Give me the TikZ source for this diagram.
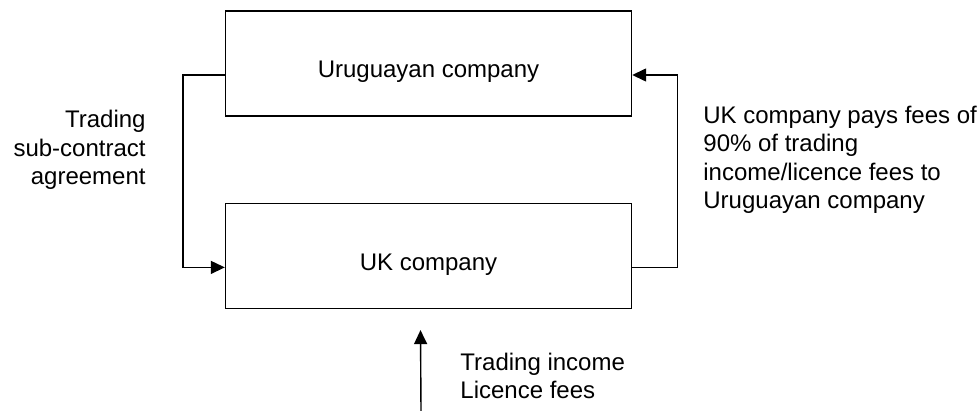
\documentclass[tikz,border=0pt]{standalone}
\usepackage{fontspec}
\setmainfont{Liberation Sans}
\usetikzlibrary{positioning}
\usetikzlibrary{arrows.meta}

\begin{document}
\begin{tikzpicture}[
x=0.5pt,y=-0.5pt,
CompanyBox/.style={draw,line width=0.7pt,minimum width=203pt,minimum height=52.5pt,inner sep=0pt,text height=17pt,text depth=2.5pt},
Flows/.style={line width=0.7pt,-{Triangle[length=7pt,width=6.5pt]}},
Notes/.style={inner sep=0pt},
every node/.style={font=\fontsize{12}{14.25}\selectfont}
]
\useasboundingbox (0,0) rectangle (979,411);

% the two companies
\node[CompanyBox] (uru) at (428.5,63.5) {Uruguayan company};
\node[CompanyBox,below=43pt of uru] (uk) {UK company};

% sub-contract down, fees back up
\draw[Flows] ([yshift=-5.75pt]uru.west) -- ++(-42,0) |- ([yshift=-5.75pt]uk.west);
\draw[Flows] ([yshift=-5.75pt]uk.east) -- ++(45,0) |- ([yshift=-5.75pt]uru.east);

% income coming in from below
\coordinate (income) at (421,411);
\draw[Flows] (income) -- ([xshift=-4pt,yshift=-10.5pt]uk.south);

\node[Notes,align=right,anchor=east] (subcontract) at (146,150) {Trading\\sub-contract\\agreement};
\node[Notes,align=left,anchor=west] (payfees) at (703,160) {UK company pays fees of\\90\% of trading\\income/licence fees to\\Uruguayan company};
\node[Notes,align=left,anchor=west] (incomefees) at (460,376) {Trading income\\Licence fees};

\end{tikzpicture}
\end{document}
